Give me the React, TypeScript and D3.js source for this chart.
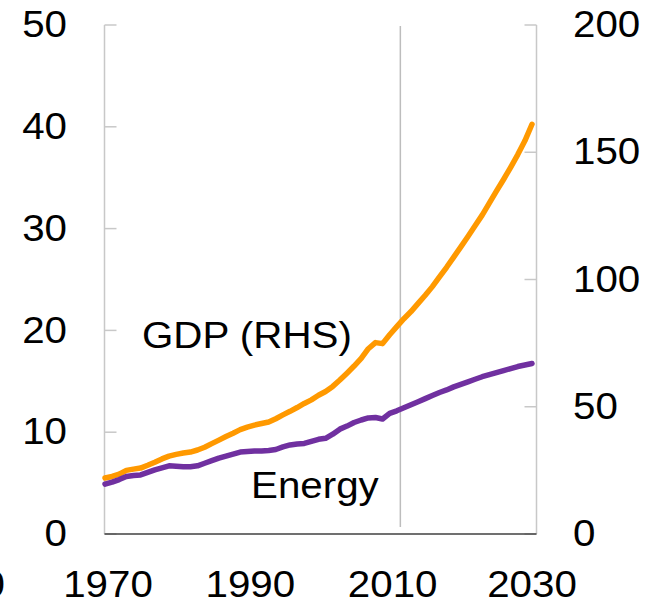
import React from "react";
import * as d3 from "d3";

const years: number[] = d3.range(1970, 2031);

// Energy (left axis)
const energy: number[] = [
  4.9, 5.1, 5.35, 5.65, 5.75, 5.8, 6.05, 6.3, 6.5, 6.7,
  6.65, 6.6, 6.6, 6.7, 6.95, 7.2, 7.45, 7.65, 7.85, 8.05,
  8.1, 8.15, 8.15, 8.2, 8.3, 8.55, 8.75, 8.85, 8.9, 9.1,
  9.3, 9.4, 9.8, 10.3, 10.6, 10.95, 11.2, 11.4, 11.45, 11.3,
  11.85, 12.1, 12.4, 12.7, 13.0, 13.3, 13.6, 13.9, 14.15, 14.45,
  14.7, 14.95, 15.2, 15.45, 15.65, 15.85, 16.05, 16.25, 16.45, 16.6,
  16.75,
];

// GDP (right axis)
const gdp: number[] = [
  22.0, 22.6, 23.5, 25.0, 25.5, 25.9, 27.0, 28.2, 29.5, 30.6,
  31.3, 31.8, 32.2, 33.0, 34.1, 35.5, 36.9, 38.3, 39.6, 41.0,
  42.0, 42.8, 43.4, 44.0, 45.3, 46.8, 48.2, 49.7, 51.3, 52.7,
  54.5, 56.0, 58.0, 60.5, 63.2, 66.0, 69.0, 72.8, 75.2, 74.8,
  78.3, 81.5, 84.6, 87.4, 90.6, 93.8, 97.2, 101.0, 104.8, 108.8,
  112.8, 116.9, 121.1, 125.3, 130.0, 134.7, 139.3, 144.1, 149.1, 154.5,
  161.0,
];

const xTicks: number[] = [1970, 1990, 2010, 2030];
const leftTicks: number[] = [0, 10, 20, 30, 40, 50];
const rightTicks: number[] = [0, 50, 100, 150, 200];
const projectionStart = 2011.5;

const FONT = "'Liberation Sans', Arial, sans-serif";
const SX = 1.09;

function T(props: { x: number; y: number; anchor?: "start" | "middle" | "end"; dy?: string; children: React.ReactNode }) {
  return (
    <text
      transform={`translate(${props.x},${props.y}) scale(${SX},1)`}
      dy={props.dy}
      textAnchor={props.anchor || "start"}
      fontSize={37}
      fill="#000"
    >
      {props.children}
    </text>
  );
}

export default function App() {
  const W = 656, H = 601;
  const axL = 104.5, axR = 536.5, top = 25, bottom = 534;
  const x = d3.scaleLinear().domain([1970, 2030]).range([105, 532]);
  const yL = d3.scaleLinear().domain([0, 50]).range([bottom, top]);
  const yR = d3.scaleLinear().domain([0, 200]).range([bottom, top]);

  const lineE = d3.line<number>().x((_, i) => x(years[i])).y((d) => yL(d));
  const lineG = d3.line<number>().x((_, i) => x(years[i])).y((d) => yR(d));

  const grey = "#c8c8c8";

  return (
    <svg width={W} height={H} style={{ position: "absolute", left: 0, top: 0, background: "#fff" }}
      fontFamily={FONT}>
      {/* left axis */}
      <line x1={axL} x2={axL} y1={top} y2={bottom} stroke={grey} strokeWidth={1.5} />
      {leftTicks.map((t) => (
        <g key={"l" + t}>
          <line x1={axL} x2={axL + 12} y1={yL(t)} y2={yL(t)} stroke={grey} strokeWidth={1.5} />
          <T x={67} y={yL(t)} dy="0.33em" anchor="end">{t}</T>
        </g>
      ))}
      {/* right axis */}
      <line x1={axR} x2={axR} y1={top} y2={bottom} stroke={grey} strokeWidth={1.5} />
      {rightTicks.map((t) => (
        <g key={"r" + t}>
          <line x1={axR - 12} x2={axR} y1={yR(t)} y2={yR(t)} stroke={grey} strokeWidth={1.5} />
          <T x={573} y={yR(t)} dy="0.33em">{t}</T>
        </g>
      ))}
      {/* baseline */}
      <line x1={axL} x2={axR} y1={bottom} y2={bottom} stroke="#404040" strokeWidth={1.5} />
      {/* projection marker */}
      <line x1={x(projectionStart)} x2={x(projectionStart)} y1={top + 1} y2={527} stroke="#bdbdbd" strokeWidth={1.5} />
      {/* x labels */}
      {xTicks.map((t) => (
        <T key={"x" + t} x={x(t) + (t === 2030 ? 0 : 3)} y={597} anchor="middle">{t}</T>
      ))}
      <T x={5} y={597} anchor="end">0</T>
      {/* lines */}
      <path d={lineG(gdp) || ""} fill="none" stroke="#FF9900" strokeWidth={5.5} strokeLinejoin="round" strokeLinecap="round" />
      <path d={lineE(energy) || ""} fill="none" stroke="#7030A0" strokeWidth={5.5} strokeLinejoin="round" strokeLinecap="round" />
      {/* labels */}
      <T x={142} y={348}>GDP (RHS)</T>
      <T x={251} y={498}>Energy</T>
    </svg>
  );
}
